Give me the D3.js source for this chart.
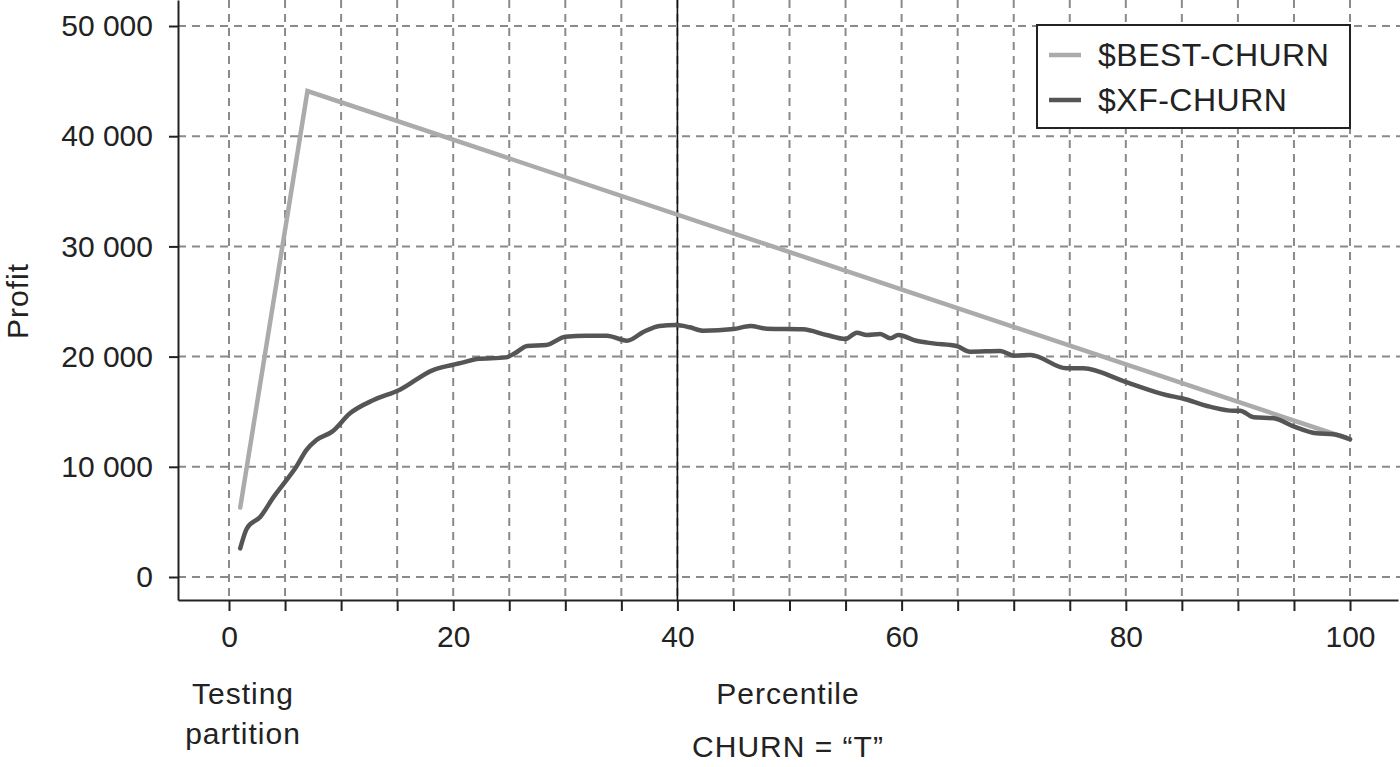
<!DOCTYPE html>
<html>
<head>
<meta charset="utf-8">
<script src="https://cdn.jsdelivr.net/npm/d3@7"></script>
<style>
  html, body { margin: 0; padding: 0; background: #fff; }
  svg { display: block; font-family: "Liberation Sans", Arial, Helvetica, sans-serif; }
</style>
</head>
<body>
<svg id="chart" width="1400" height="767"></svg>
<script>
// ---- data ----
const seriesNames = ["$BEST-CHURN", "$XF-CHURN"];
const bestPercentile = [1, 7, 100];
const bestProfit = [6300, 44100, 12500];
const xfPercentile = [1, 1.6, 2.8, 4.0, 4.9, 6.0, 6.9, 7.8, 9.2, 10.8, 12.9, 15.2, 18.2, 19.9, 20.9, 22.1, 24.7, 25.5, 26.6, 28.3, 30.0, 31.9, 33.7, 35.5, 37.0, 38.4, 39.9, 41.1, 42.3, 45.0, 46.5, 48.0, 51.2, 53.3, 55.0, 56.0, 56.9, 58.1, 59.0, 59.7, 61.3, 62.8, 64.9, 66.1, 68.8, 70.0, 71.5, 74.7, 76.2, 79.9, 83.6, 85.0, 87.5, 89.6, 90.2, 91.4, 93.2, 94.9, 97.0, 98.5, 100];
const xfProfit = [2600, 4420, 5470, 7290, 8500, 10010, 11520, 12430, 13190, 14850, 16060, 16970, 18780, 19240, 19480, 19780, 19930, 20300, 20960, 21050, 21800, 21900, 21900, 21440, 22260, 22780, 22870, 22660, 22350, 22500, 22780, 22530, 22480, 21960, 21600, 22170, 21960, 22050, 21660, 21960, 21440, 21200, 20960, 20450, 20510, 20080, 20150, 18940, 18940, 17730, 16520, 16220, 15460, 15090, 15090, 14490, 14400, 13700, 13040, 12950, 12500];
const xTickValues = [0, 5, 10, 15, 20, 25, 30, 35, 40, 45, 50, 55, 60, 65, 70, 75, 80, 85, 90, 95, 100];
const xTickLabels = ["0", "20", "40", "60", "80", "100"];
const yTickValues = [0, 10000, 20000, 30000, 40000, 50000];
const yTickLabels = ["0", "10 000", "20 000", "30 000", "40 000", "50 000"];
const cutoffPercentile = 40;
const yLabel = "Profit";
const xLabel = "Percentile";
const subLabel = "CHURN = \u201CT\u201D";
const partitionLabel = ["Testing", "partition"];

// ---- layout ----
const svg = d3.select("#chart");
const plotLeft = 178, plotRight = 1398, plotTop = 0, plotBottom = 600;
const x = d3.scaleLinear().domain([-4.55, 104.28]).range([plotLeft, plotRight]);
const y = d3.scaleLinear().domain([-2087, 52360]).range([plotBottom, plotTop]);
const textColor = "#222";
const fontSize = 30;

// grid
const grid = svg.append("g").attr("stroke", "#8a8a8a").attr("stroke-width", 2).attr("stroke-dasharray", "8,6");
grid.selectAll("line.v").data(xTickValues).join("line").attr("class", "v")
  .attr("x1", d => x(d)).attr("x2", d => x(d)).attr("y1", plotTop).attr("y2", plotBottom);
grid.selectAll("line.h").data(yTickValues).join("line").attr("class", "h")
  .attr("x1", plotLeft).attr("x2", 1400).attr("y1", d => y(d)).attr("y2", d => y(d));

// cutoff line
svg.append("line")
  .attr("x1", x(cutoffPercentile)).attr("x2", x(cutoffPercentile))
  .attr("y1", plotTop).attr("y2", plotBottom)
  .attr("stroke", "#111").attr("stroke-width", 1.6);

// lines
svg.append("path")
  .datum(bestPercentile.map((p, i) => [p, bestProfit[i]]))
  .attr("d", d3.line().x(d => x(d[0])).y(d => y(d[1])))
  .attr("fill", "none").attr("stroke", "#ababab").attr("stroke-width", 4.5)
  .attr("stroke-linecap", "round");
svg.append("path")
  .datum(xfPercentile.map((p, i) => [p, xfProfit[i]]))
  .attr("d", d3.line().x(d => x(d[0])).y(d => y(d[1])).curve(d3.curveMonotoneX))
  .attr("fill", "none").attr("stroke", "#555").attr("stroke-width", 4.5)
  .attr("stroke-linecap", "round").attr("stroke-linejoin", "round");

// axes
const xAxis = d3.axisBottom(x).tickValues(xTickValues)
  .tickFormat(d => (d % 20 === 0 ? xTickLabels[d / 20] : ""))
  .tickSize(11).tickSizeOuter(0).tickPadding(15);
const gx = svg.append("g").attr("transform", `translate(0,${plotBottom})`).call(xAxis);
const yAxis = d3.axisLeft(y).tickValues(yTickValues)
  .tickFormat((d, i) => yTickLabels[i])
  .tickSize(9).tickSizeOuter(0).tickPadding(16);
const gy = svg.append("g").attr("transform", `translate(${plotLeft},0)`).call(yAxis);
[gx, gy].forEach(g => {
  g.select(".domain").attr("stroke", textColor).attr("stroke-width", 2);
  g.selectAll(".tick line").attr("stroke", textColor).attr("stroke-width", 2);
  g.selectAll(".tick text").attr("fill", textColor)
    .style("font-size", fontSize + "px").style("font-family", "'Liberation Sans', Arial, sans-serif");
});

// axis labels
svg.append("text")
  .attr("transform", `translate(28,301) rotate(-90)`)
  .attr("text-anchor", "middle").attr("fill", textColor)
  .style("font-size", fontSize + "px").style("letter-spacing", "1px").text(yLabel);
svg.append("text")
  .attr("x", 788).attr("y", 704).attr("text-anchor", "middle").attr("fill", textColor)
  .style("font-size", fontSize + "px").style("letter-spacing", "1px").text(xLabel);
svg.append("text")
  .attr("x", 788).attr("y", 757).attr("text-anchor", "middle").attr("fill", textColor)
  .style("font-size", fontSize + "px").style("letter-spacing", "1px").text(subLabel);
svg.append("text").attr("text-anchor", "middle").attr("fill", textColor)
  .style("font-size", fontSize + "px").style("letter-spacing", "1px")
  .selectAll("tspan").data(partitionLabel).join("tspan")
  .attr("x", 243).attr("y", (d, i) => 704 + i * 40).text(d => d);

// legend
const legend = svg.append("g");
legend.append("rect").attr("x", 1037).attr("y", 25).attr("width", 313).attr("height", 103)
  .attr("fill", "#fff").attr("stroke", textColor).attr("stroke-width", 2);
const legendColors = ["#ababab", "#555"];
const items = legend.selectAll("g.item").data(seriesNames).join("g").attr("class", "item")
  .attr("transform", (d, i) => `translate(0,${55 + i * 45})`);
items.append("line").attr("x1", 1049).attr("x2", 1081).attr("y1", 0).attr("y2", 0)
  .attr("stroke", (d, i) => legendColors[i]).attr("stroke-width", 4.5);
items.append("text").attr("x", 1098).attr("y", 11).attr("fill", textColor)
  .style("font-size", "32px").style("letter-spacing", "0.5px").text(d => d);
</script>
</body>
</html>
